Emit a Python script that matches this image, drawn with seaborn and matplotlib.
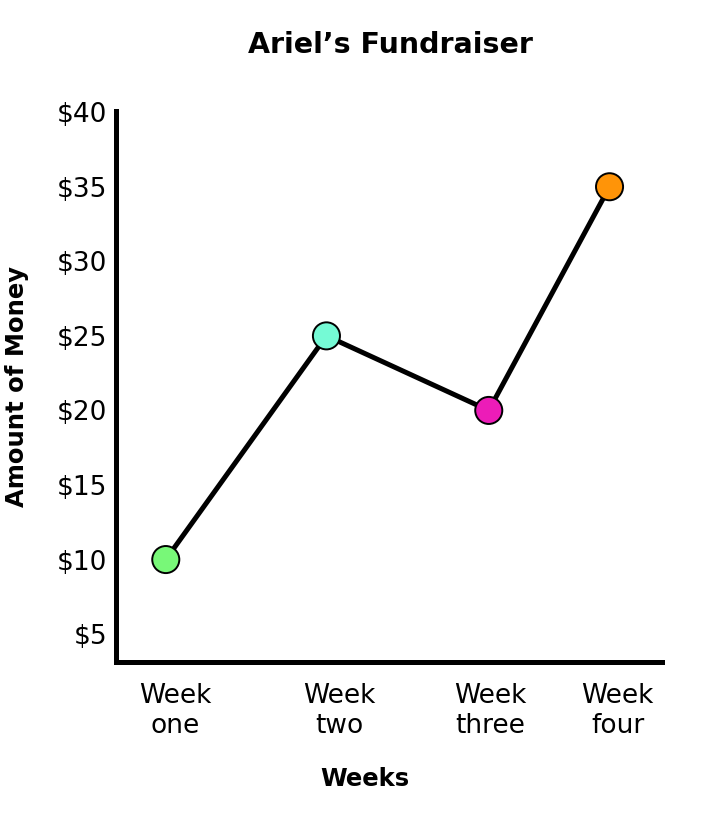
# import libraries
import pandas as pd
import numpy as np
import matplotlib
matplotlib.use('Agg')
import matplotlib.pyplot as plt
import seaborn as sns

# define variables
weeks = ['Week\none', 'Week\ntwo', 'Week\nthree', 'Week\nfour']
money = [10, 25, 20, 35]
point_colors = ['#78F878', '#75FAD5', '#EC1CB8', '#FF9408']
y_ticks = [5, 10, 15, 20, 25, 30, 35, 40]
y_tick_labels = ['$5', '$10', '$15', '$20', '$25', '$30', '$35', '$40']

# layout: where each week sits on the x axis (axis runs 0 to 10)
point_x = [0.92, 3.86, 6.83, 9.04]
label_x = [1.09, 4.09, 6.85, 9.19]

df = pd.DataFrame({'week': weeks, 'x': point_x, 'money': money})

sns.set_style('white')
plt.rcParams['font.family'] = ['DejaVu Sans']
plt.rcParams['text.color'] = 'black'
plt.rcParams['xtick.color'] = 'black'
plt.rcParams['ytick.color'] = 'black'

fig = plt.figure(figsize=(7.14, 8.14), dpi=100)
ax = fig.add_axes([115.5 / 714, 1 - 661.7 / 814, 546.5 / 714, 551 / 814])

sns.lineplot(data=df, x='x', y='money', ax=ax, color='black', linewidth=3.6,
             sort=False, zorder=1)
sns.scatterplot(data=df, x='x', y='money', hue='week', palette=point_colors,
                ax=ax, s=380, edgecolor='black', linewidth=1.4, legend=False,
                zorder=2)

ax.set_xlim(0, 10)
ax.set_ylim(3.15, 40.1)

ax.set_yticks(y_ticks)
ax.set_yticklabels(y_tick_labels, fontsize=19)
ax.set_xticks(label_x)
ax.set_xticklabels(weeks, fontsize=19)
ax.tick_params(axis='y', length=0, pad=6)
ax.tick_params(axis='x', length=0, pad=15)
ax.set_xlabel('')
ax.set_ylabel('')

for side in ['top', 'right']:
    ax.spines[side].set_visible(False)
for side in ['left', 'bottom']:
    ax.spines[side].set_color('black')
    ax.spines[side].set_linewidth(3.6)
    ax.spines[side].set_capstyle('projecting')

fig.text(390 / 714, 1 - 45 / 814, 'Ariel\u2019s Fundraiser', ha='center', va='center',
         fontsize=20.5, fontweight='bold')
fig.text(365 / 714, 1 - 779 / 814, 'Weeks', ha='center', va='center',
         fontsize=17.5, fontweight='bold')
fig.text(17.5 / 714, 1 - 386.5 / 814, 'Amount of Money', ha='center', va='center',
         rotation=90, fontsize=17.5, fontweight='bold')

fig.savefig('out.png', dpi=100)
